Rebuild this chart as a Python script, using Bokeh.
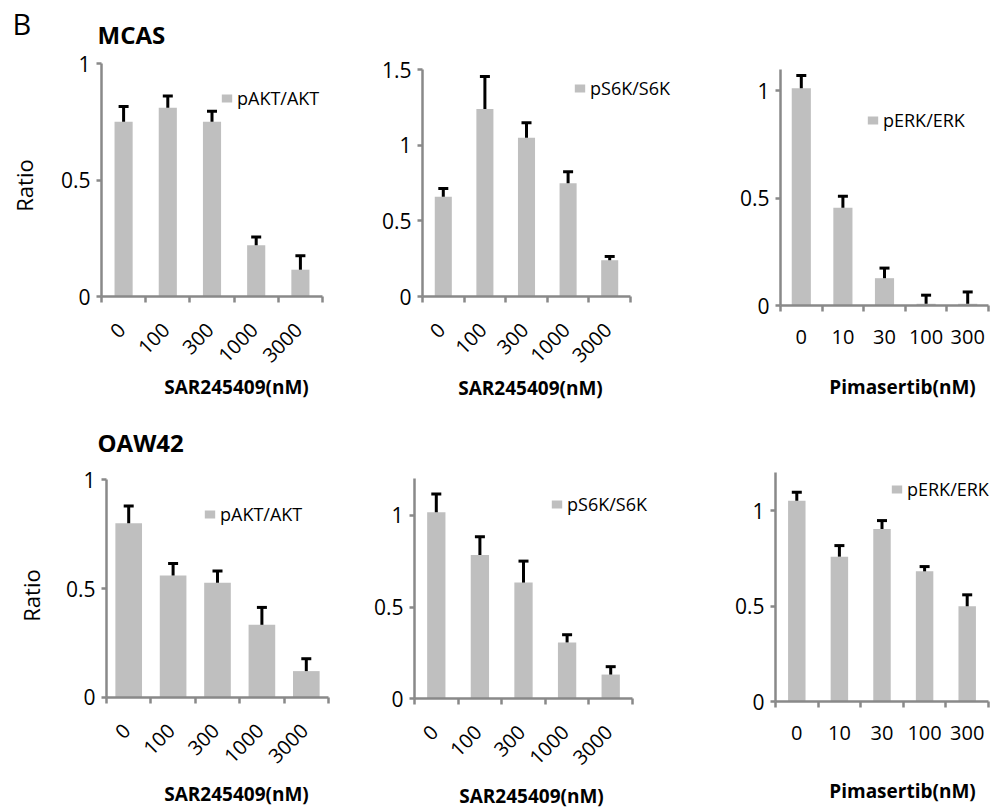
import math
from bokeh.plotting import figure
from bokeh.models import (Range1d, FixedTicker, Legend, LegendItem, Whisker, TeeHead,
                          ColumnDataSource, Label)
from bokeh.layouts import column, row
from bokeh.embed import file_html
from bokeh.resources import INLINE

# ---------------- data ----------------
sar_doses = ["0", "100", "300", "1000", "3000"]
pim_doses = ["0", "10", "30", "100", "300"]

mcas_pakt = [0.75, 0.81, 0.75, 0.22, 0.115]
mcas_pakt_err = [0.065, 0.05, 0.045, 0.035, 0.06]
mcas_ps6k = [0.66, 1.24, 1.05, 0.75, 0.24]
mcas_ps6k_err = [0.055, 0.215, 0.10, 0.075, 0.025]
mcas_perk = [1.01, 0.455, 0.127, 0.008, 0.008]
mcas_perk_err = [0.06, 0.053, 0.047, 0.04, 0.055]

oaw_pakt = [0.80, 0.56, 0.526, 0.333, 0.12]
oaw_pakt_err = [0.08, 0.055, 0.055, 0.08, 0.057]
oaw_ps6k = [1.016, 0.783, 0.633, 0.307, 0.132]
oaw_ps6k_err = [0.10, 0.10, 0.117, 0.042, 0.043]
oaw_perk = [1.052, 0.759, 0.904, 0.682, 0.499]
oaw_perk_err = [0.045, 0.058, 0.044, 0.025, 0.06]

FONT = "Open Sans"
BAR = "#BFBFBF"
AXIS = "#898989"


def panel(cfg, labels, vals, errs, legend_text, yticks, y_end):
    ox, oy, W, H = cfg["canvas"]           # canvas position/size on the page
    fl, fr, ft, fb = cfg["frame"]          # axis box on the page (left, right, top=y_end, bottom=0)
    n = len(vals)
    ux = n / (fr - fl)
    uy = y_end / (fb - ft)
    xr = Range1d(0.5 - (fl - ox) * ux, n + 0.5 + (ox + W - fr) * ux)
    yr = Range1d(-(oy + H - fb) * uy, y_end + (ft - oy) * uy)
    p = figure(width=W, height=H, x_range=xr, y_range=yr,
               output_backend="svg", toolbar_location=None,
               min_border_left=0, min_border_right=0, min_border_top=0, min_border_bottom=0)
    p.outline_line_color = None
    p.xgrid.grid_line_color = None
    p.ygrid.grid_line_color = None
    p.background_fill_color = "white"
    p.border_fill_color = "white"

    def sx(rx):
        return rx - ox

    def sy(ry):
        return oy + H - ry

    xs = list(range(1, n + 1))
    src = ColumnDataSource(dict(x=xs, top=vals,
                                upper=[v + e for v, e in zip(vals, errs)]))
    rend = p.vbar(x="x", top="top", width=cfg["bw"], source=src,
                  fill_color=BAR, line_color=None)
    wh = Whisker(source=src, base="x", lower="top", upper="upper", dimension="height",
                 line_color="black", line_width=3,
                 upper_head=TeeHead(size=10, line_width=3, line_color="black"),
                 lower_head=None, level="overlay")
    p.add_layout(wh)

    # x axis: tick marks between categories, labels at centres
    shift = cfg["lshift"]
    lab_pos = [x + shift for x in xs]
    xa = p.xaxis[0]
    xa.fixed_location = 0
    xa.bounds = (0.5, n + 0.5)
    xa.ticker = FixedTicker(ticks=lab_pos, minor_ticks=[x - 0.5 for x in xs] + [n + 0.5])
    xa.major_label_overrides = {x: lab for x, lab in zip(lab_pos, labels)}
    xa.major_tick_line_color = None
    xa.major_tick_out = 6
    xa.major_tick_in = 0
    xa.minor_tick_line_color = AXIS
    xa.minor_tick_line_width = 2.5
    xa.minor_tick_out = 6
    xa.minor_tick_in = 0
    xa.axis_line_color = AXIS
    xa.axis_line_width = 2.5
    xa.major_label_text_font = FONT
    xa.major_label_text_font_size = "20px"
    xa.major_label_text_color = "black"
    xa.major_label_standoff = cfg["xstand"]
    if cfg["rot"]:
        xa.major_label_orientation = math.pi / 4

    ya = p.yaxis[0]
    ya.fixed_location = 0.5
    ya.bounds = (0, y_end)
    ya.ticker = FixedTicker(ticks=yticks, minor_ticks=[])
    ya.major_label_overrides = {v: ("%g" % v) for v in yticks}
    ya.major_tick_line_color = AXIS
    ya.major_tick_line_width = 2.5
    ya.major_tick_out = 5
    ya.major_tick_in = 0
    ya.minor_tick_line_color = None
    ya.axis_line_color = AXIS
    ya.axis_line_width = 2.5
    ya.major_label_text_font = FONT
    ya.major_label_text_font_size = "21px"
    ya.major_label_text_color = "black"
    ya.major_label_standoff = 6

    lx, lcy = cfg["legend"]
    leg = Legend(items=[LegendItem(label=legend_text, renderers=[rend])],
                 location=(sx(lx), sy(lcy) - 12), border_line_color=None,
                 background_fill_alpha=0, padding=0, margin=0, spacing=0,
                 glyph_width=13, glyph_height=10, label_standoff=4,
                 label_text_font=FONT, label_text_font_size="18px",
                 label_text_color="black")
    p.add_layout(leg)

    tx, ty, ttext = cfg["xtitle"]
    p.add_layout(Label(x=sx(tx), y=sy(ty), x_units="screen", y_units="screen", text=ttext,
                       text_font=FONT, text_font_size="19px", text_font_style="bold",
                       text_align="center", text_baseline="middle", text_color="black"))
    if "ratio" in cfg:
        rx, ry = cfg["ratio"]
        p.add_layout(Label(x=sx(rx), y=sy(ry), x_units="screen", y_units="screen",
                           text="Ratio", angle=math.pi / 2, text_font=FONT,
                           text_font_size="22px", text_align="center",
                           text_baseline="middle", text_color="black"))
    for (hx, hy, htext, hsize, hstyle) in cfg.get("heads", []):
        p.add_layout(Label(x=sx(hx), y=sy(hy), x_units="screen", y_units="screen",
                           text=htext, text_font=FONT, text_font_size=hsize,
                           text_font_style=hstyle, text_align="left",
                           text_baseline="middle", text_color="black"))
    return p


# layout (page pixel positions)
c1 = dict(canvas=(0, 0, 338, 410), frame=(101, 322, 63, 296), bw=0.41, rot=True,
          xstand=24, lshift=-0.04, legend=(220, 97.5), xtitle=(236, 386, "SAR245409(nM)"),
          ratio=(23.5, 185),
          heads=[(12, 23, "B", "29px", "normal"), (97, 33.5, "MCAS", "24px", "bold")])
c2 = dict(canvas=(338, 0, 352, 410), frame=(422, 630, 69.3, 296), bw=0.41, rot=True,
          xstand=24, lshift=-0.04, legend=(573, 88), xtitle=(530, 387, "SAR245409(nM)"))
c3 = dict(canvas=(690, 0, 318, 410), frame=(780, 988, 68.5, 305), bw=0.46, rot=False,
          xstand=18, lshift=0.0, legend=(866, 120), xtitle=(902, 386, "Pimasertib(nM)"))
c4 = dict(canvas=(0, 410, 338, 401), frame=(106, 328, 479.3, 696.7), bw=0.6, rot=True,
          xstand=24, lshift=-0.04, legend=(203, 514), xtitle=(236, 793, "SAR245409(nM)"),
          ratio=(30, 595), heads=[(97, 441.5, "OAW42", "24px", "bold")])
c5 = dict(canvas=(338, 410, 352, 401), frame=(414, 632, 478, 698.3), bw=0.42, rot=True,
          xstand=24, lshift=-0.04, legend=(550, 503.5), xtitle=(531, 795, "SAR245409(nM)"))
c6 = dict(canvas=(690, 410, 318, 401), frame=(775, 988, 472, 701), bw=0.41, rot=False,
          xstand=18, lshift=0.0, legend=(890, 489), xtitle=(902, 790, "Pimasertib(nM)"))

p1 = panel(c1, sar_doses, mcas_pakt, mcas_pakt_err, "pAKT/AKT", [0, 0.5, 1], 1.0)
p2 = panel(c2, sar_doses, mcas_ps6k, mcas_ps6k_err, "pS6K/S6K", [0, 0.5, 1, 1.5], 1.5)
p3 = panel(c3, pim_doses, mcas_perk, mcas_perk_err, "pERK/ERK", [0, 0.5, 1], 1.1)
p4 = panel(c4, sar_doses, oaw_pakt, oaw_pakt_err, "pAKT/AKT", [0, 0.5, 1], 1.0)
p5 = panel(c5, sar_doses, oaw_ps6k, oaw_ps6k_err, "pS6K/S6K", [0, 0.5, 1], 1.2)
p6 = panel(c6, pim_doses, oaw_perk, oaw_perk_err, "pERK/ERK", [0, 0.5, 1], 1.2)

layout = column(row(p1, p2, p3), row(p4, p5, p6))
open("out.html", "w").write(file_html(layout, INLINE))
